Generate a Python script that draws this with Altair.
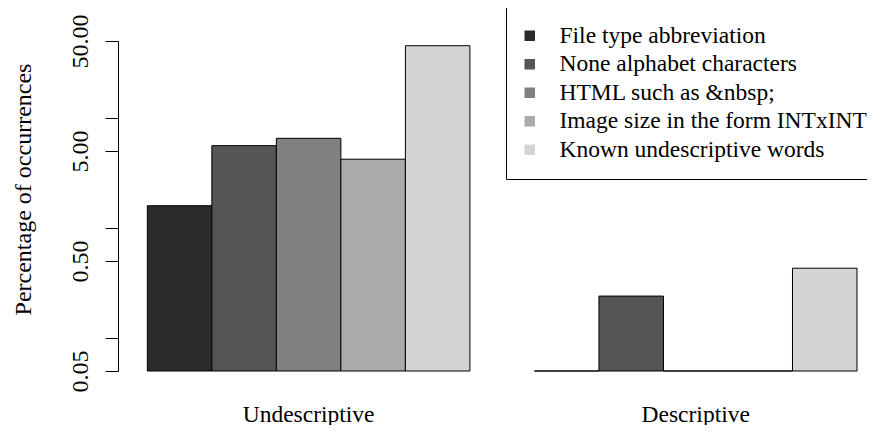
import altair as alt
import pandas as pd

groups = ["Undescriptive", "Descriptive"]
categories = [
    "File type abbreviation",
    "None alphabet characters",
    "HTML such as &nbsp;",
    "Image size in the form INTxINT",
    "Known undescriptive words",
]
undescriptive_values = [1.59, 5.59, 6.52, 4.21, 45.3]
descriptive_values = [0.05, 0.24, 0.05, 0.05, 0.43]
bar_colors = ["#2B2B2B", "#555555", "#808080", "#AAAAAA", "#D4D4D4"]
y_ticks = [0.05, 0.1, 0.5, 1, 5, 10, 50]
y_labels = ["0.05", "0.50", "5.00", "50.00"]
y_base = 0.05

rows = []
for g, vals in zip(groups, [undescriptive_values, descriptive_values]):
    for c, v in zip(categories, vals):
        rows.append({"group": g, "category": c, "value": v})
df = pd.DataFrame(rows)

FONT = "Liberation Serif"
label_list = "[" + ",".join("'" + s + "'" for s in y_labels) + "]"

chart = alt.Chart(df).mark_bar(stroke="black", strokeWidth=1).encode(
    x=alt.X(
        "group:N",
        sort=groups,
        scale=alt.Scale(domain=groups, paddingInner=1 / 6, paddingOuter=0.0508, align=0.746),
        axis=alt.Axis(
            title=None, domain=False, ticks=False, tickSize=0, labelAngle=0,
            labelFont=FONT, labelFontSize=23.5, labelPadding=50, labelColor="black",
            labelBaseline="alphabetic", grid=False,
        ),
    ),
    xOffset=alt.XOffset(
        "category:N", sort=categories,
        scale=alt.Scale(domain=categories, paddingInner=0, paddingOuter=0),
    ),
    y=alt.Y(
        "value:Q",
        scale=alt.Scale(type="log", domain=[0.05, 50], nice=False),
        axis=alt.Axis(
            values=y_ticks, format=".2f",
            labelExpr="indexof(" + label_list + ", datum.label) >= 0 ? datum.label : ''",
            labelAngle=270, labelAlign="center", labelBaseline="alphabetic",
            labelPadding=18, tickSize=13, tickColor="black", domainColor="black",
            labelFont=FONT, labelFontSize=24, labelColor="black", labelOverlap=False,
            grid=False,
            title="Percentage of occurrences", titleFont=FONT, titleFontSize=24,
            titleFontWeight="normal", titleColor="black", titleAngle=270,
            titleX=-88, titleY=148, titleAlign="center", titleBaseline="alphabetic",
        ),
    ),
    y2=alt.datum(y_base),
    color=alt.Color(
        "category:N", sort=categories,
        scale=alt.Scale(domain=categories, range=bar_colors),
        legend=alt.Legend(
            orient="none", legendX=388, legendY=-34, title=None,
            symbolType="square", symbolSize=110, symbolStrokeWidth=0,
            symbolOffset=-5,
            labelFont=FONT, labelFontSize=23.5, labelColor="black", labelOffset=18,
            labelLimit=1000, rowPadding=3.5, padding=17,
            strokeColor="black", fillColor="white",
        ),
    ),
).properties(
    width=749, height=330,
    background="white",
    autosize=alt.AutoSizeParams(type="none"),
    padding={"left": 110, "top": 33, "right": 0, "bottom": 54},
).configure_view(stroke=None).configure_axis(grid=False)

chart.save("out.html", embed_options={"renderer": "svg", "actions": False})
